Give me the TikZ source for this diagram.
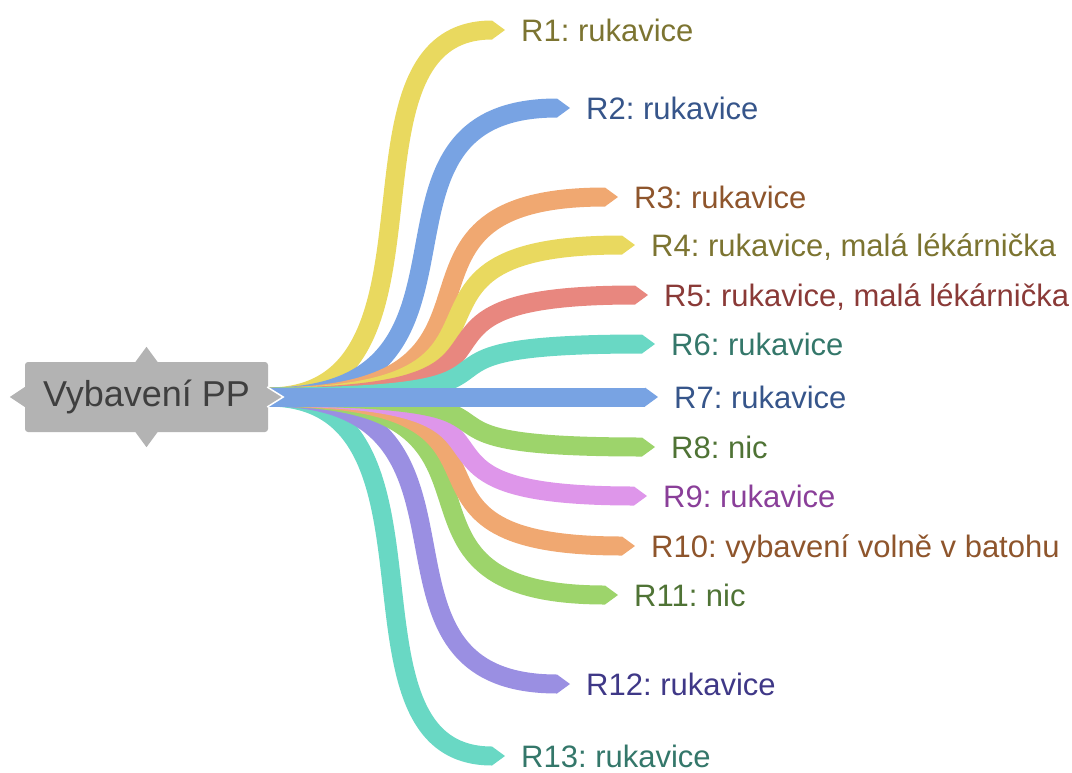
\documentclass[tikz,border=0pt]{standalone}
\usepackage{fontspec}
\setmainfont{Liberation Sans}
\usetikzlibrary{arrows.meta}
\frenchspacing

% ribbon colours
\definecolor{ribYellow}{HTML}{E9D95F}
\definecolor{ribBlue}{HTML}{78A3E3}
\definecolor{ribOrange}{HTML}{F0A871}
\definecolor{ribRed}{HTML}{E8877F}
\definecolor{ribTeal}{HTML}{69D8C4}
\definecolor{ribGreen}{HTML}{9DD46B}
\definecolor{ribPink}{HTML}{DE96EA}
\definecolor{ribPurple}{HTML}{9A8FE2}
% label colours
\definecolor{txtOlive}{HTML}{7C7431}
\definecolor{txtBlue}{HTML}{36558A}
\definecolor{txtBrown}{HTML}{8E552C}
\definecolor{txtRed}{HTML}{8A3A37}
\definecolor{txtTeal}{HTML}{34776A}
\definecolor{txtGreen}{HTML}{4F7335}
\definecolor{txtPink}{HTML}{8A3F99}
\definecolor{txtPurple}{HTML}{3F3887}
\definecolor{nodeGray}{HTML}{B3B3B3}
\definecolor{rootText}{HTML}{3F3F3F}

\begin{document}
\begin{tikzpicture}[x=1pt,y=-1pt,
  branch/.style={line width=19pt, shorten >=16pt,
    -{Triangle[length=13pt,width=19pt,line width=0pt]}},
  leaf/.style={anchor=west, inner sep=0pt, text height=22pt, text depth=0pt,
    font=\fontsize{31}{37}\selectfont},
  root/.style={fill=nodeGray, rounded corners=3pt, inner sep=0pt,
    minimum width=243pt, minimum height=70pt, text=rootText,
    font=\fontsize{36}{42}\selectfont}]
  \useasboundingbox (0,0) rectangle (1072,772);

  % central topic
  \node[root] (root) at (146.5,397) {Vybavení PP};
  % notches on top, bottom and left
  \fill[nodeGray] (root.north) ++(-11,0) -- ++(11,-15) -- ++(11,15) -- cycle;
  \fill[nodeGray] (root.south) ++(-11,0) -- ++(11,15) -- ++(11,-15) -- cycle;
  \fill[nodeGray] (root.west) ++(0,-10) -- ++(-15,10) -- ++(15,10) -- cycle;

  % leaf labels
  \node[leaf, text=txtOlive]  (r1)  at (521,30)  {R1: rukavice};
  \node[leaf, text=txtBlue]   (r2)  at (586,108) {R2: rukavice};
  \node[leaf, text=txtBrown]  (r3)  at (634,197) {R3: rukavice};
  \node[leaf, text=txtOlive]  (r4)  at (651,245) {R4: rukavice, malá lékárnička};
  \node[leaf, text=txtRed]    (r5)  at (664,295) {R5: rukavice, malá lékárnička};
  \node[leaf, text=txtTeal]   (r6)  at (671,344) {R6: rukavice};
  \node[leaf, text=txtBlue]   (r7)  at (674,397) {R7: rukavice};
  \node[leaf, text=txtGreen]  (r8)  at (671,447) {R8: nic};
  \node[leaf, text=txtPink]   (r9)  at (663,496) {R9: rukavice};
  \node[leaf, text=txtBrown]  (r10) at (651,546) {R10: vybavení volně v batohu};
  \node[leaf, text=txtGreen]  (r11) at (634,595) {R11: nic};
  \node[leaf, text=txtPurple] (r12) at (586,684) {R12: rukavice};
  \node[leaf, text=txtTeal]   (r13) at (521,756) {R13: rukavice};

  % branches, outer ones first
  \draw[branch, ribYellow] (root.east) .. controls +(197,0) and +(-197,0) .. (r1.west);
  \draw[branch, ribTeal]   (root.east) .. controls +(197,0) and +(-197,0) .. (r13.west);
  \draw[branch, ribBlue]   (root.east) .. controls +(249,0) and +(-249,0) .. (r2.west);
  \draw[branch, ribPurple] (root.east) .. controls +(249,0) and +(-249,0) .. (r12.west);
  \draw[branch, ribOrange] (root.east) .. controls +(287,0) and +(-287,0) .. (r3.west);
  \draw[branch, ribGreen]  (root.east) .. controls +(287,0) and +(-287,0) .. (r11.west);
  \draw[branch, ribYellow] (root.east) .. controls +(301,0) and +(-301,0) .. (r4.west);
  \draw[branch, ribOrange] (root.east) .. controls +(301,0) and +(-301,0) .. (r10.west);
  \draw[branch, ribRed]    (root.east) .. controls +(311,0) and +(-311,0) .. (r5.west);
  \draw[branch, ribPink]   (root.east) .. controls +(310,0) and +(-310,0) .. (r9.west);
  \draw[branch, ribTeal]   (root.east) .. controls +(317,0) and +(-317,0) .. (r6.west);
  \draw[branch, ribGreen]  (root.east) .. controls +(317,0) and +(-317,0) .. (r8.west);
  \draw[branch, ribBlue]   (root.east) -- (r7.west);

  % right notch sits over the ribbons
  \filldraw[fill=nodeGray, draw=white, line width=1.5pt]
    (root.east) ++(-1,-10) -- ++(16,10) -- ++(-16,10);
\end{tikzpicture}
\end{document}
